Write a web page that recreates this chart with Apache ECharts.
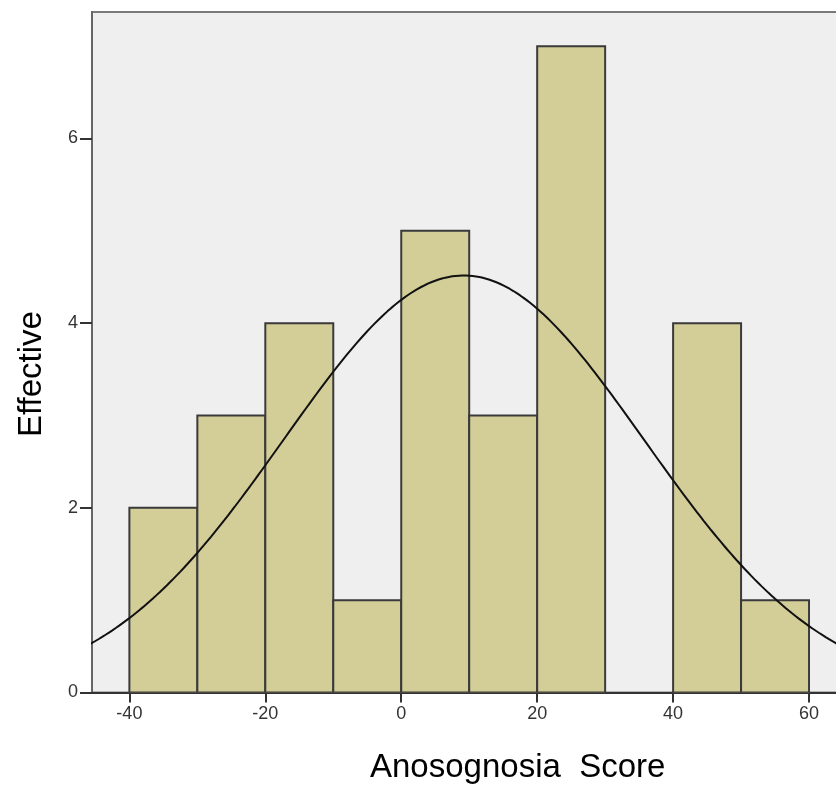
<!DOCTYPE html>
<html>
<head>
<meta charset="utf-8">
<script src="https://cdn.jsdelivr.net/npm/echarts@6/dist/echarts.min.js"></script>
<style>html,body{margin:0;padding:0;background:#fff;overflow:hidden;width:836px;height:789px;}#c{width:900px;height:789px;}</style>
</head>
<body>
<div id="c"></div>
<script>
// Histogram bins (Anosognosia Score) and counts
const binStarts = [-40, -30, -20, -10, 0, 10, 20, 30, 40, 50];
const binEnds   = [-30, -20, -10, 0, 10, 20, 30, 40, 50, 60];
const counts    = [2, 3, 4, 1, 5, 3, 7, 0, 4, 1];
// Fitted normal curve parameters
const curveMean = 9.2;
const curveSD = 26.5;
const curveN = 30;
const binWidth = 10;
// Tick labels
const xTicks = [-40, -20, 0, 20, 40, 60];
const yTicks = [0, 2, 4, 6];
const xTitle = 'Anosognosia  Score';
const yTitle = 'Effective';

const histData = binStarts.map((s, i) => [s, binEnds[i], counts[i]]).filter(d => d[2] > 0);
const curveData = [];
for (let x = -50; x <= 75; x += 0.5) {
  const z = (x - curveMean) / curveSD;
  curveData.push([x, curveN * binWidth / (curveSD * Math.sqrt(2 * Math.PI)) * Math.exp(-0.5 * z * z)]);
}

const chart = echarts.init(document.getElementById('c'), null, {renderer: 'canvas'});
const font = '"Liberation Sans", Arial, sans-serif';
chart.setOption({
  animation: false,
  grid: {
    left: 92, top: 12, width: 785, height: 680.5,
    show: true, backgroundColor: '#efefef', borderColor: '#7a7a7a', borderWidth: 2
  },
  xAxis: {
    type: 'value', min: -45.5, max: 70,
    splitLine: {show: false},
    axisLine: {onZero: false, lineStyle: {color: '#333', width: 2}},
    axisTick: {show: true, length: 10, lineStyle: {color: '#333', width: 2}, customValues: xTicks},
    axisLabel: {customValues: xTicks, color: '#333', fontSize: 18, fontFamily: font, margin: 13}
  },
  yAxis: {
    type: 'value', min: 0, max: 7.37,
    splitLine: {show: false},
    axisLine: {show: true, onZero: false, lineStyle: {color: '#666', width: 2}},
    axisTick: {show: true, length: 12, lineStyle: {color: '#333', width: 2}, customValues: yTicks},
    axisLabel: {customValues: yTicks, color: '#333', fontSize: 18, fontFamily: font, margin: 14}
  },
  graphic: [
    {type: 'text', left: 370, top: 751, style: {text: xTitle, font: '33px ' + font, fill: '#000'}},
    {type: 'text', x: 15, y: 437, rotation: Math.PI / 2,
     style: {text: yTitle, font: '33px ' + font, fill: '#000', textAlign: 'left', textVerticalAlign: 'top'}}
  ],
  series: [
    {
      type: 'custom',
      data: histData,
      clip: true,
      renderItem: function (params, api) {
        const p0 = api.coord([api.value(0), api.value(2)]);
        const p1 = api.coord([api.value(1), 0]);
        return {
          type: 'rect',
          shape: {x: p0[0], y: p0[1], width: p1[0] - p0[0], height: p1[1] - p0[1]},
          style: {fill: '#d3cd98', stroke: '#3a3a3a', lineWidth: 2}
        };
      },
      z: 2
    },
    {
      type: 'line',
      data: curveData,
      showSymbol: false,
      smooth: false,
      clip: true,
      lineStyle: {color: '#111', width: 2},
      z: 3
    }
  ]
});
</script>
</body>
</html>
